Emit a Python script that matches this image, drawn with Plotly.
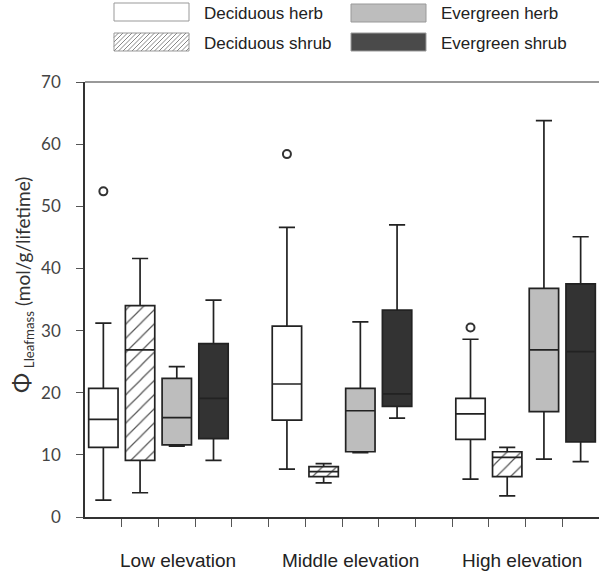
import plotly.graph_objects as go

# ---- data -------------------------------------------------------------
elevations = ["Low elevation", "Middle elevation", "High elevation"]
series = ["Deciduous herb", "Deciduous shrub", "Evergreen herb", "Evergreen shrub"]

# box statistics per series, one value per elevation (Low, Middle, High)
dh_lower = [2.7, 7.7, 6.1]
dh_q1 = [11.2, 15.6, 12.5]
dh_median = [15.7, 21.4, 16.6]
dh_q3 = [20.7, 30.7, 19.1]
dh_upper = [31.2, 46.6, 28.6]
dh_outliers = [52.4, 58.4, 30.5]

ds_lower = [3.9, 5.5, 3.4]
ds_q1 = [9.1, 6.5, 6.5]
ds_median = [26.9, 7.3, 9.6]
ds_q3 = [34.0, 8.1, 10.5]
ds_upper = [41.6, 8.6, 11.2]

eh_lower = [11.4, 10.35, 9.3]
eh_q1 = [11.6, 10.5, 16.95]
eh_median = [16.0, 17.1, 26.9]
eh_q3 = [22.3, 20.7, 36.8]
eh_upper = [24.2, 31.4, 63.8]

es_lower = [9.1, 15.9, 8.9]
es_q1 = [12.6, 17.8, 12.1]
es_median = [19.1, 19.8, 26.6]
es_q3 = [27.9, 33.3, 37.5]
es_upper = [34.9, 47.0, 45.1]

y_ticks = [0, 10, 20, 30, 40, 50, 60, 70]

# ---- layout helpers ---------------------------------------------------
W, H = 599, 575
GROUP_STEP = 5          # four boxes per group plus one empty slot
BOX_W = 0.8
LINE = "#222222"
LABEL_X = [2.03, 6.72, 11.4]   # x position of each group's caption


def slots(k):
    return [g * GROUP_STEP + k for g in range(len(elevations))]


def px(x):
    return x / W


def py(y):
    return 1 - y / H


fig = go.Figure()

# hatch body for the deciduous shrub boxes (box traces have no fill pattern)
fig.add_trace(go.Bar(
    x=slots(1), base=ds_q1, y=[b - a for a, b in zip(ds_q1, ds_q3)],
    width=BOX_W, showlegend=False, hoverinfo="skip",
    marker=dict(color="white", line=dict(width=0),
                pattern=dict(shape="/", fgcolor="#555555", bgcolor="white",
                             size=10, solidity=0.12)),
))

box_specs = [
    (0, dh_lower, dh_q1, dh_median, dh_q3, dh_upper, "white"),
    (1, ds_lower, ds_q1, ds_median, ds_q3, ds_upper, "rgba(0,0,0,0)"),
    (2, eh_lower, eh_q1, eh_median, eh_q3, eh_upper, "#bdbdbd"),
    (3, es_lower, es_q1, es_median, es_q3, es_upper, "#333333"),
]
for k, lo, q1, med, q3, up, fill in box_specs:
    fig.add_trace(go.Box(
        x=slots(k), lowerfence=lo, q1=q1, median=med, q3=q3, upperfence=up,
        width=BOX_W, whiskerwidth=0.55, fillcolor=fill,
        line=dict(color=LINE, width=1.7), boxpoints=False,
        name=series[k], showlegend=False,
    ))

fig.add_trace(go.Scatter(
    x=slots(0), y=dh_outliers, mode="markers", showlegend=False,
    marker=dict(symbol="circle-open", size=8, color="#333333",
                line=dict(width=2, color="#333333")),
))

# ---- axes -------------------------------------------------------------
fig.update_layout(
    width=W, height=H, template="none",
    margin=dict(l=0, r=0, t=0, b=0),
    paper_bgcolor="white", plot_bgcolor="white",
    barmode="overlay", boxmode="overlay",
    xaxis=dict(domain=[px(85), 1], range=[-0.5, 13.5],
               tickvals=[i + 0.5 for i in range(13)], showticklabels=False,
               ticks="outside", ticklen=8, tickwidth=1, tickcolor="#555555",
               showline=True, linecolor="#333333", linewidth=1.5,
               showgrid=False, zeroline=False, automargin=False),
    yaxis=dict(domain=[py(517), py(82)], range=[0, 70], tickvals=y_ticks,
               ticks="outside", ticklen=7, tickwidth=1, tickcolor="#555555",
               ticklabelstandoff=12,
               tickfont=dict(family="Lato", size=17, color="#444444"),
               showline=True, linecolor="#333333", linewidth=1.5,
               showgrid=False, zeroline=False, automargin=False),
)

shapes = [
    # top frame line
    dict(type="line", xref="paper", yref="paper", x0=px(85), x1=1,
         y0=py(82), y1=py(82), line=dict(color="#777777", width=1.5)),
]
annotations = [
    dict(text="<span style='font-size:24px'>Φ</span> <sub>Lleafmass</sub>"
              " (mol/g/lifetime)", textangle=-90,
         xref="paper", yref="paper", x=px(21), y=py(285),
         xanchor="center", yanchor="middle", showarrow=False,
         font=dict(family="Lato", size=19, color="#333333")),
]

# category labels under the groups
for label, xc in zip(elevations, LABEL_X):
    annotations.append(dict(text=label, xref="x", yref="paper", x=xc,
                            y=py(560), showarrow=False, xanchor="center",
                            yanchor="middle",
                            font=dict(family="Liberation Sans", size=19,
                                      color="#222222")))

# ---- legend -----------------------------------------------------------
legend_items = [
    (series[0], 114, 3, "white"),
    (series[1], 114, 33, "hatch"),
    (series[2], 351, 4, "#bdbdbd"),
    (series[3], 351, 33, "#4a4a4a"),
]
SW_W, SW_H = 75, 18
for name, x0, y0, fill in legend_items:
    x1, y1 = x0 + SW_W, y0 + SW_H
    shapes.append(dict(type="rect", xref="paper", yref="paper",
                       x0=px(x0), x1=px(x1), y0=py(y1), y1=py(y0),
                       fillcolor="white" if fill == "hatch" else fill,
                       line=dict(color="#999999", width=1)))
    if fill == "hatch":
        step = 4.5
        c = x0 + y0 + step
        while c < x1 + y1:
            ax = max(x0, c - y1)
            bx = min(x1, c - y0)
            shapes.append(dict(type="line", xref="paper", yref="paper",
                               x0=px(ax), y0=py(c - ax), x1=px(bx), y1=py(c - bx),
                               line=dict(color="#888888", width=1)))
            c += step
    annotations.append(dict(text=name, xref="paper", yref="paper",
                            x=px(x1 + 13), y=py(y0 + 10), showarrow=False,
                            xanchor="left", yanchor="middle",
                            font=dict(family="Liberation Sans", size=17,
                                      color="#222222")))

fig.update_layout(shapes=shapes, annotations=annotations)

fig.write_html("out.html")
